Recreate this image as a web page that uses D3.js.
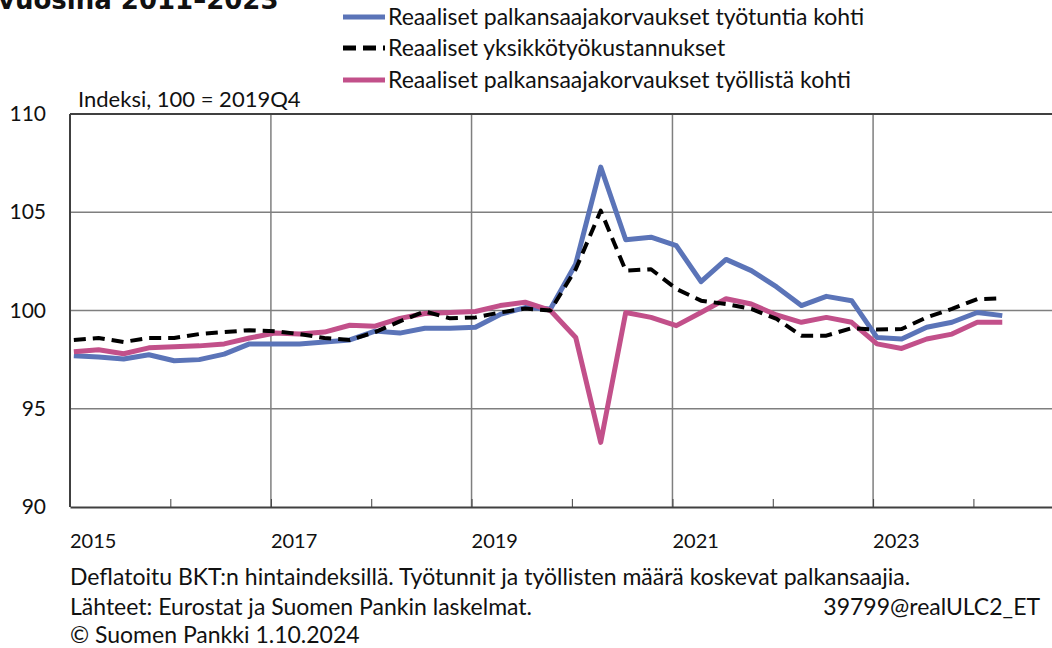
<!DOCTYPE html>
<html>
<head>
<meta charset="utf-8">
<script src="https://cdn.jsdelivr.net/npm/d3@7"></script>
<style>
  body { margin: 0; background: #fff; }
  svg { display: block; font-family: Lato, "Noto Sans", sans-serif; }
</style>
</head>
<body>
<svg></svg>
<script>
// quarterly data, index 100 = 2019Q4
var quarters = ['2015Q1','2015Q2','2015Q3','2015Q4','2016Q1','2016Q2','2016Q3','2016Q4',
	'2017Q1','2017Q2','2017Q3','2017Q4','2018Q1','2018Q2','2018Q3','2018Q4',
	'2019Q1','2019Q2','2019Q3','2019Q4','2020Q1','2020Q2','2020Q3','2020Q4',
	'2021Q1','2021Q2','2021Q3','2021Q4','2022Q1','2022Q2','2022Q3','2022Q4',
	'2023Q1','2023Q2','2023Q3','2023Q4','2024Q1','2024Q2'];

var perHour = [97.7, 97.63, 97.53, 97.75, 97.44, 97.5, 97.78, 98.3,
	98.3, 98.3, 98.4, 98.5, 98.95, 98.85, 99.1, 99.1,
	99.15, 99.8, 100.15, 100.08, 102.37, 107.3, 103.6, 103.73,
	103.3, 101.47, 102.6, 102.03, 101.2, 100.25, 100.72, 100.5,
	98.63, 98.55, 99.15, 99.4, 99.9, 99.74];

var ulc = [98.5, 98.6, 98.4, 98.6, 98.6, 98.8, 98.9, 99.0,
	98.95, 98.8, 98.6, 98.5, 98.9, 99.45, 99.95, 99.6,
	99.65, 99.9, 100.1, 100.0, 102.1, 105.08, 102.03, 102.1,
	101.1, 100.5, 100.33, 100.08, 99.57, 98.72, 98.72, 99.1,
	99.03, 99.06, 99.65, 100.08, 100.58, 100.62];

var perEmployee = [97.9, 98.0, 97.8, 98.1, 98.15, 98.2, 98.3, 98.6,
	98.85, 98.8, 98.9, 99.25, 99.2, 99.6, 99.85, 99.9,
	99.95, 100.25, 100.42, 100.0, 98.63, 93.29, 99.9, 99.65,
	99.23, 99.9, 100.6, 100.33, 99.77, 99.4, 99.65, 99.4,
	98.3, 98.07, 98.55, 98.8, 99.4, 99.4];

var seriesNames = ['Reaaliset palkansaajakorvaukset työtuntia kohti',
	'Reaaliset yksikkötyökustannukset',
	'Reaaliset palkansaajakorvaukset työllistä kohti'];

var yTicks = [90, 95, 100, 105, 110];
var xLabelYears = [2015, 2017, 2019, 2021, 2023];

var W = 1052, H = 648;
var svg = d3.select('svg').attr('width', W).attr('height', H);

var plotLeft = 70, plotTop = 114, plotBottom = 507;

var parseQ = function (s) {
	return new Date(+s.slice(0, 4), (+s.slice(5) - 1) * 3, 15);
};
var dates = quarters.map(parseQ);

var x = d3.scaleTime()
	.domain([new Date(2015, 0, 1), new Date(2025, 0, 1)])
	.range([plotLeft, 1074]);
var y = d3.scaleLinear().domain([90, 110]).range([plotBottom, plotTop]);

// title, cut off at the top of the picture
svg.append('text')
	.attr('x', -2).attr('y', 9)
	.style('font-family', '"DejaVu Sans", sans-serif')
	.style('font-size', '26px')
	.style('font-weight', 'bold')
	.attr('fill', '#111')
	.text('vuosina 2011–2023');

var g = svg.append('g');

// horizontal gridlines
g.selectAll('.hgrid')
	.data(yTicks.filter(function (d) { return d > 90 && d < 110; }))
	.enter().append('line')
	.attr('x1', plotLeft).attr('x2', W)
	.attr('y1', function (d) { return y(d); })
	.attr('y2', function (d) { return y(d); })
	.attr('stroke', '#7f7f7f').attr('stroke-width', 1.5);

// vertical gridlines every second year
g.selectAll('.vgrid')
	.data(xLabelYears.slice(1))
	.enter().append('line')
	.attr('x1', function (d) { return x(new Date(d, 0, 1)); })
	.attr('x2', function (d) { return x(new Date(d, 0, 1)); })
	.attr('y1', plotTop).attr('y2', plotBottom)
	.attr('stroke', '#7f7f7f').attr('stroke-width', 1.5);

// plot border (top and left)
g.append('line').attr('x1', plotLeft).attr('x2', W).attr('y1', plotTop).attr('y2', plotTop)
	.attr('stroke', '#404040').attr('stroke-width', 2);
g.append('line').attr('x1', plotLeft).attr('x2', plotLeft).attr('y1', plotTop).attr('y2', plotBottom)
	.attr('stroke', '#404040').attr('stroke-width', 2);

// x axis with yearly ticks pointing up
var xAxis = d3.axisBottom(x)
	.ticks(d3.timeYear.every(1))
	.tickSizeInner(-8).tickSizeOuter(0)
	.tickFormat('');
var gx = g.append('g').attr('transform', 'translate(0,' + plotBottom + ')').call(xAxis);
gx.select('.domain').attr('stroke', '#404040').attr('stroke-width', 2);
gx.selectAll('.tick line').attr('stroke', '#404040').attr('stroke-width', 1);

g.selectAll('.xlab')
	.data(xLabelYears)
	.enter().append('text')
	.attr('x', function (d) { return x(new Date(d, 0, 1)); })
	.attr('y', 548)
	.style('font-size', '20px')
	.attr('fill', '#111')
	.text(function (d) { return d; });

// y axis labels
g.selectAll('.ylab')
	.data(yTicks)
	.enter().append('text')
	.attr('x', 46)
	.attr('y', function (d) { return y(d) + 7; })
	.attr('text-anchor', 'end')
	.style('font-size', '21px')
	.attr('fill', '#111')
	.text(function (d) { return d; });

svg.append('text')
	.attr('x', 78).attr('y', 107)
	.style('font-size', '22px')
	.attr('fill', '#111')
	.text('Indeksi, 100 = 2019Q4');

// lines
var line = d3.line()
	.x(function (d, i) { return x(dates[i]); })
	.y(function (d) { return y(d); });

var series = [
	{ values: perHour, color: '#5b74b8', width: 5, dash: null },
	{ values: perEmployee, color: '#c2508a', width: 5, dash: null },
	{ values: ulc, color: '#000', width: 4, dash: '12,7' }
];

series.forEach(function (s) {
	g.append('path')
		.attr('d', line(s.values))
		.attr('fill', 'none')
		.attr('stroke', s.color)
		.attr('stroke-width', s.width)
		.attr('stroke-linejoin', 'round')
		.attr('stroke-dasharray', s.dash);
});

// legend
var legend = [
	{ name: seriesNames[0], color: '#5b74b8', dash: null, y: 17 },
	{ name: seriesNames[1], color: '#000', dash: '13,7', y: 48 },
	{ name: seriesNames[2], color: '#c2508a', dash: null, y: 80 }
];
var lg = svg.append('g');
legend.forEach(function (d) {
	lg.append('line')
		.attr('x1', 343).attr('x2', 385)
		.attr('y1', d.y).attr('y2', d.y)
		.attr('stroke', d.color)
		.attr('stroke-width', 5)
		.attr('stroke-dasharray', d.dash);
	lg.append('text')
		.attr('x', 388).attr('y', d.y + 8)
		.style('font-size', '23px')
		.attr('fill', '#111')
		.text(d.name);
});

// footnotes
var notes = svg.append('g').style('font-size', '23px').attr('fill', '#111');
notes.append('text').attr('x', 70).attr('y', 585)
	.text('Deflatoitu BKT:n hintaindeksillä. Työtunnit ja työllisten määrä koskevat palkansaajia.');
notes.append('text').attr('x', 70).attr('y', 615)
	.text('Lähteet: Eurostat ja Suomen Pankin laskelmat.');
notes.append('text').attr('x', 1040).attr('y', 615).attr('text-anchor', 'end')
	.text('39799@realULC2_ET');
notes.append('text').attr('x', 70).attr('y', 643)
	.text('© Suomen Pankki 1.10.2024');
</script>
</body>
</html>
